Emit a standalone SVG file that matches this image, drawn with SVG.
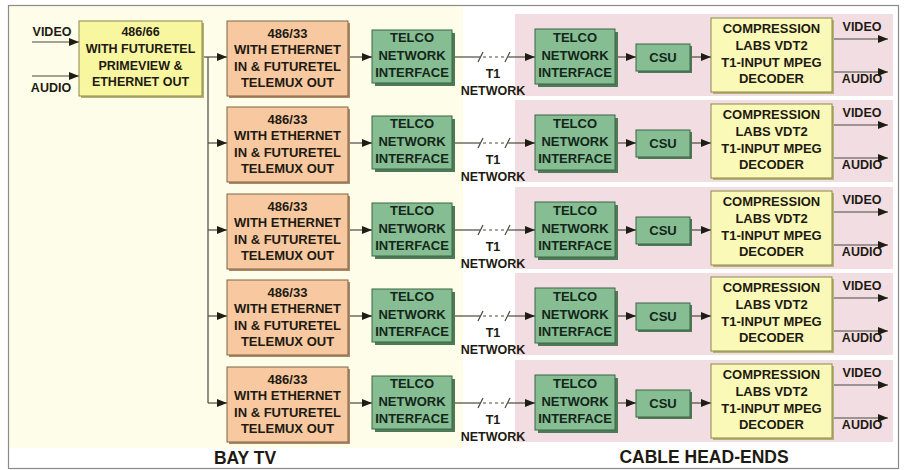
<svg xmlns="http://www.w3.org/2000/svg" width="907" height="470" viewBox="0 0 907 470">
<style>
  text{font-family:"Liberation Sans",Arial,sans-serif;font-weight:bold;fill:#1d1a12;text-anchor:middle}
  .bx{font-size:13px}
  .sb{font-size:12.5px}
  .lbl{font-size:12.5px}
  .big{font-size:17.5px;font-weight:bold}
  .orange{fill:#f8c8a0;stroke:#7d6446;stroke-width:1}
  .yellow{fill:#fbf9b8;stroke:#8a874e;stroke-width:1}
  .ysrc{fill:#f9f6a0;stroke:#8a874e;stroke-width:1}
  .green{fill:#86bd93;stroke:#3b6644;stroke-width:1}
  .shO{fill:#b08a66}
  .shY{fill:#b6b274}
  .shG{fill:#4e7a58}
  .gt{fill:#14261a}
  .pink{fill:#f2dde2}
  .ln{stroke:#4a4a40;stroke-width:1.2;fill:none}
  .dash{stroke:#4a4a40;stroke-width:1.2;fill:none;stroke-dasharray:3 3}
</style>
<defs>
  <marker id="ah" markerUnits="userSpaceOnUse" markerWidth="10" markerHeight="8" refX="10" refY="4" orient="auto">
    <path d="M0,0 L10,4 L0,8 z" fill="#1d1d14"/>
  </marker>
</defs>
<rect x="0" y="0" width="907" height="470" fill="#ffffff"/>
<rect x="9" y="6" width="454" height="442" fill="#fdfde9"/>
<g id="panels">
  <rect class="pink" x="515" y="14" width="378" height="82"/>
  <rect class="pink" x="515" y="100" width="378" height="82"/>
  <rect class="pink" x="515" y="187" width="378" height="82"/>
  <rect class="pink" x="515" y="273" width="378" height="82"/>
  <rect class="pink" x="515" y="360" width="378" height="82"/>
</g>
<rect x="8.5" y="5.5" width="890" height="463" fill="none" stroke="#8a8a8a" stroke-width="1.2"/>

<g id="connectors">
  <line class="ln" x1="32" y1="42" x2="79" y2="42" marker-end="url(#ah)"/>
  <line class="ln" x1="32" y1="76" x2="79" y2="76" marker-end="url(#ah)"/>
  <line class="ln" x1="202" y1="57" x2="227" y2="57" marker-end="url(#ah)"/>
  <line class="ln" x1="208" y1="57" x2="208" y2="403"/>
  <line class="ln" x1="208" y1="143" x2="227" y2="143" marker-end="url(#ah)"/>
  <line class="ln" x1="208" y1="230" x2="227" y2="230" marker-end="url(#ah)"/>
  <line class="ln" x1="208" y1="316" x2="227" y2="316" marker-end="url(#ah)"/>
  <line class="ln" x1="208" y1="403" x2="227" y2="403" marker-end="url(#ah)"/>
  <g id="r1c">
    <line class="ln" x1="348" y1="57" x2="372" y2="57" marker-end="url(#ah)"/>
    <line class="ln" x1="452" y1="57" x2="480" y2="57"/>
    <line class="dash" x1="483" y1="57" x2="506" y2="57"/>
    <line class="ln" x1="508" y1="57" x2="535" y2="57" marker-end="url(#ah)"/>
    <line class="ln" x1="478" y1="62" x2="483" y2="52"/><line class="ln" x1="505" y1="62" x2="510" y2="52"/>
    <line class="ln" x1="615" y1="57" x2="636" y2="57" marker-end="url(#ah)"/>
    <line class="ln" x1="690" y1="57" x2="711" y2="57" marker-end="url(#ah)"/>
    <line class="ln" x1="832" y1="39" x2="888" y2="39" marker-end="url(#ah)"/>
    <line class="ln" x1="832" y1="72" x2="888" y2="72" marker-end="url(#ah)"/>
  </g>
  <g id="r2c">
    <line class="ln" x1="348" y1="143" x2="372" y2="143" marker-end="url(#ah)"/>
    <line class="ln" x1="452" y1="143" x2="480" y2="143"/>
    <line class="dash" x1="483" y1="143" x2="506" y2="143"/>
    <line class="ln" x1="508" y1="143" x2="535" y2="143" marker-end="url(#ah)"/>
    <line class="ln" x1="478" y1="148" x2="483" y2="138"/><line class="ln" x1="505" y1="148" x2="510" y2="138"/>
    <line class="ln" x1="615" y1="143" x2="636" y2="143" marker-end="url(#ah)"/>
    <line class="ln" x1="690" y1="143" x2="711" y2="143" marker-end="url(#ah)"/>
    <line class="ln" x1="832" y1="125" x2="888" y2="125" marker-end="url(#ah)"/>
    <line class="ln" x1="832" y1="158" x2="888" y2="158" marker-end="url(#ah)"/>
  </g>
  <g id="r3c">
    <line class="ln" x1="348" y1="230" x2="372" y2="230" marker-end="url(#ah)"/>
    <line class="ln" x1="452" y1="230" x2="480" y2="230"/>
    <line class="dash" x1="483" y1="230" x2="506" y2="230"/>
    <line class="ln" x1="508" y1="230" x2="535" y2="230" marker-end="url(#ah)"/>
    <line class="ln" x1="478" y1="235" x2="483" y2="225"/><line class="ln" x1="505" y1="235" x2="510" y2="225"/>
    <line class="ln" x1="615" y1="230" x2="636" y2="230" marker-end="url(#ah)"/>
    <line class="ln" x1="690" y1="230" x2="711" y2="230" marker-end="url(#ah)"/>
    <line class="ln" x1="832" y1="212" x2="888" y2="212" marker-end="url(#ah)"/>
    <line class="ln" x1="832" y1="245" x2="888" y2="245" marker-end="url(#ah)"/>
  </g>
  <g id="r4c">
    <line class="ln" x1="348" y1="316" x2="372" y2="316" marker-end="url(#ah)"/>
    <line class="ln" x1="452" y1="316" x2="480" y2="316"/>
    <line class="dash" x1="483" y1="316" x2="506" y2="316"/>
    <line class="ln" x1="508" y1="316" x2="535" y2="316" marker-end="url(#ah)"/>
    <line class="ln" x1="478" y1="321" x2="483" y2="311"/><line class="ln" x1="505" y1="321" x2="510" y2="311"/>
    <line class="ln" x1="615" y1="316" x2="636" y2="316" marker-end="url(#ah)"/>
    <line class="ln" x1="690" y1="316" x2="711" y2="316" marker-end="url(#ah)"/>
    <line class="ln" x1="832" y1="298" x2="888" y2="298" marker-end="url(#ah)"/>
    <line class="ln" x1="832" y1="331" x2="888" y2="331" marker-end="url(#ah)"/>
  </g>
  <g id="r5c">
    <line class="ln" x1="348" y1="403" x2="372" y2="403" marker-end="url(#ah)"/>
    <line class="ln" x1="452" y1="403" x2="480" y2="403"/>
    <line class="dash" x1="483" y1="403" x2="506" y2="403"/>
    <line class="ln" x1="508" y1="403" x2="535" y2="403" marker-end="url(#ah)"/>
    <line class="ln" x1="478" y1="408" x2="483" y2="398"/><line class="ln" x1="505" y1="408" x2="510" y2="398"/>
    <line class="ln" x1="615" y1="403" x2="636" y2="403" marker-end="url(#ah)"/>
    <line class="ln" x1="690" y1="403" x2="711" y2="403" marker-end="url(#ah)"/>
    <line class="ln" x1="832" y1="385" x2="888" y2="385" marker-end="url(#ah)"/>
    <line class="ln" x1="832" y1="418" x2="888" y2="418" marker-end="url(#ah)"/>
  </g>
</g>

<g id="inputs">
  <text class="lbl" x="52" y="36">VIDEO</text>
  <text class="lbl" x="51" y="92">AUDIO</text>
</g>

<g id="src">
  <rect class="shY" x="81" y="23" width="123" height="75"/>
  <rect class="ysrc" x="79" y="21" width="123" height="75"/>
  <text class="sb" x="140.5" y="36">486/66</text>
  <text class="sb" x="140.5" y="53">WITH FUTURETEL</text>
  <text class="sb" x="140.5" y="70">PRIMEVIEW &amp;</text>
  <text class="sb" x="140.5" y="86">ETHERNET OUT</text>
</g>

<g id="pc1">
  <rect class="shO" x="229" y="23" width="121" height="75"/>
  <rect class="orange" x="227" y="21" width="121" height="75"/>
  <text class="bx" x="287.5" y="37.5">486/33</text>
  <text class="bx" x="287.5" y="54">WITH ETHERNET</text>
  <text class="bx" x="287.5" y="70.5">IN &amp; FUTURETEL</text>
  <text class="bx" x="287.5" y="87">TELEMUX OUT</text>
</g>
<g id="tl1">
  <rect class="shG" x="375" y="33" width="80" height="53"/>
  <rect class="green" x="372" y="30" width="80" height="53"/>
  <text class="bx gt" x="412" y="42">TELCO</text>
  <text class="bx gt" x="412" y="60">NETWORK</text>
  <text class="bx gt" x="412" y="77">INTERFACE</text>
</g>
<g id="t1n1"><text class="lbl" x="493" y="78">T1</text><text class="lbl" x="493" y="95">NETWORK</text></g>
<g id="tr1">
  <rect class="shG" x="538" y="32" width="80" height="55"/>
  <rect class="green" x="535" y="29" width="80" height="55"/>
  <text class="bx gt" x="575" y="42">TELCO</text>
  <text class="bx gt" x="575" y="60">NETWORK</text>
  <text class="bx gt" x="575" y="77">INTERFACE</text>
</g>
<g id="csu1">
  <rect class="shG" x="638" y="46" width="54" height="27"/>
  <rect class="green" x="636" y="44" width="54" height="27"/>
  <text class="bx gt" x="663" y="62">CSU</text>
</g>
<g id="dec1">
  <rect class="shY" x="713" y="20" width="121" height="74"/>
  <rect class="yellow" x="711" y="18" width="121" height="74"/>
  <text class="bx" x="771.5" y="33">COMPRESSION</text>
  <text class="bx" x="771.5" y="50">LABS VDT2</text>
  <text class="bx" x="771.5" y="67">T1-INPUT MPEG</text>
  <text class="bx" x="771.5" y="83">DECODER</text>
</g>
<g id="out1"><text class="lbl" x="862" y="31">VIDEO</text><text class="lbl" x="862" y="83">AUDIO</text></g>

<g id="pc2">
  <rect class="shO" x="229" y="109" width="121" height="75"/>
  <rect class="orange" x="227" y="107" width="121" height="75"/>
  <text class="bx" x="287.5" y="123.5">486/33</text>
  <text class="bx" x="287.5" y="140">WITH ETHERNET</text>
  <text class="bx" x="287.5" y="156.5">IN &amp; FUTURETEL</text>
  <text class="bx" x="287.5" y="173">TELEMUX OUT</text>
</g>
<g id="tl2">
  <rect class="shG" x="375" y="119" width="80" height="53"/>
  <rect class="green" x="372" y="116" width="80" height="53"/>
  <text class="bx gt" x="412" y="128">TELCO</text>
  <text class="bx gt" x="412" y="146">NETWORK</text>
  <text class="bx gt" x="412" y="163">INTERFACE</text>
</g>
<g id="t1n2"><text class="lbl" x="493" y="164">T1</text><text class="lbl" x="493" y="181">NETWORK</text></g>
<g id="tr2">
  <rect class="shG" x="538" y="118" width="80" height="55"/>
  <rect class="green" x="535" y="115" width="80" height="55"/>
  <text class="bx gt" x="575" y="128">TELCO</text>
  <text class="bx gt" x="575" y="146">NETWORK</text>
  <text class="bx gt" x="575" y="163">INTERFACE</text>
</g>
<g id="csu2">
  <rect class="shG" x="638" y="132" width="54" height="27"/>
  <rect class="green" x="636" y="130" width="54" height="27"/>
  <text class="bx gt" x="663" y="148">CSU</text>
</g>
<g id="dec2">
  <rect class="shY" x="713" y="106" width="121" height="74"/>
  <rect class="yellow" x="711" y="104" width="121" height="74"/>
  <text class="bx" x="771.5" y="119">COMPRESSION</text>
  <text class="bx" x="771.5" y="136">LABS VDT2</text>
  <text class="bx" x="771.5" y="153">T1-INPUT MPEG</text>
  <text class="bx" x="771.5" y="169">DECODER</text>
</g>
<g id="out2"><text class="lbl" x="862" y="117">VIDEO</text><text class="lbl" x="862" y="169">AUDIO</text></g>

<g id="pc3">
  <rect class="shO" x="229" y="196" width="121" height="75"/>
  <rect class="orange" x="227" y="194" width="121" height="75"/>
  <text class="bx" x="287.5" y="210.5">486/33</text>
  <text class="bx" x="287.5" y="227">WITH ETHERNET</text>
  <text class="bx" x="287.5" y="243.5">IN &amp; FUTURETEL</text>
  <text class="bx" x="287.5" y="260">TELEMUX OUT</text>
</g>
<g id="tl3">
  <rect class="shG" x="375" y="206" width="80" height="53"/>
  <rect class="green" x="372" y="203" width="80" height="53"/>
  <text class="bx gt" x="412" y="215">TELCO</text>
  <text class="bx gt" x="412" y="233">NETWORK</text>
  <text class="bx gt" x="412" y="250">INTERFACE</text>
</g>
<g id="t1n3"><text class="lbl" x="493" y="251">T1</text><text class="lbl" x="493" y="268">NETWORK</text></g>
<g id="tr3">
  <rect class="shG" x="538" y="205" width="80" height="55"/>
  <rect class="green" x="535" y="202" width="80" height="55"/>
  <text class="bx gt" x="575" y="215">TELCO</text>
  <text class="bx gt" x="575" y="233">NETWORK</text>
  <text class="bx gt" x="575" y="250">INTERFACE</text>
</g>
<g id="csu3">
  <rect class="shG" x="638" y="219" width="54" height="27"/>
  <rect class="green" x="636" y="217" width="54" height="27"/>
  <text class="bx gt" x="663" y="235">CSU</text>
</g>
<g id="dec3">
  <rect class="shY" x="713" y="193" width="121" height="74"/>
  <rect class="yellow" x="711" y="191" width="121" height="74"/>
  <text class="bx" x="771.5" y="206">COMPRESSION</text>
  <text class="bx" x="771.5" y="223">LABS VDT2</text>
  <text class="bx" x="771.5" y="240">T1-INPUT MPEG</text>
  <text class="bx" x="771.5" y="256">DECODER</text>
</g>
<g id="out3"><text class="lbl" x="862" y="204">VIDEO</text><text class="lbl" x="862" y="256">AUDIO</text></g>

<g id="pc4">
  <rect class="shO" x="229" y="282" width="121" height="75"/>
  <rect class="orange" x="227" y="280" width="121" height="75"/>
  <text class="bx" x="287.5" y="296.5">486/33</text>
  <text class="bx" x="287.5" y="313">WITH ETHERNET</text>
  <text class="bx" x="287.5" y="329.5">IN &amp; FUTURETEL</text>
  <text class="bx" x="287.5" y="346">TELEMUX OUT</text>
</g>
<g id="tl4">
  <rect class="shG" x="375" y="292" width="80" height="53"/>
  <rect class="green" x="372" y="289" width="80" height="53"/>
  <text class="bx gt" x="412" y="301">TELCO</text>
  <text class="bx gt" x="412" y="319">NETWORK</text>
  <text class="bx gt" x="412" y="336">INTERFACE</text>
</g>
<g id="t1n4"><text class="lbl" x="493" y="337">T1</text><text class="lbl" x="493" y="354">NETWORK</text></g>
<g id="tr4">
  <rect class="shG" x="538" y="291" width="80" height="55"/>
  <rect class="green" x="535" y="288" width="80" height="55"/>
  <text class="bx gt" x="575" y="301">TELCO</text>
  <text class="bx gt" x="575" y="319">NETWORK</text>
  <text class="bx gt" x="575" y="336">INTERFACE</text>
</g>
<g id="csu4">
  <rect class="shG" x="638" y="305" width="54" height="27"/>
  <rect class="green" x="636" y="303" width="54" height="27"/>
  <text class="bx gt" x="663" y="321">CSU</text>
</g>
<g id="dec4">
  <rect class="shY" x="713" y="279" width="121" height="74"/>
  <rect class="yellow" x="711" y="277" width="121" height="74"/>
  <text class="bx" x="771.5" y="292">COMPRESSION</text>
  <text class="bx" x="771.5" y="309">LABS VDT2</text>
  <text class="bx" x="771.5" y="326">T1-INPUT MPEG</text>
  <text class="bx" x="771.5" y="342">DECODER</text>
</g>
<g id="out4"><text class="lbl" x="862" y="290">VIDEO</text><text class="lbl" x="862" y="342">AUDIO</text></g>

<g id="pc5">
  <rect class="shO" x="229" y="369" width="121" height="75"/>
  <rect class="orange" x="227" y="367" width="121" height="75"/>
  <text class="bx" x="287.5" y="383.5">486/33</text>
  <text class="bx" x="287.5" y="400">WITH ETHERNET</text>
  <text class="bx" x="287.5" y="416.5">IN &amp; FUTURETEL</text>
  <text class="bx" x="287.5" y="433">TELEMUX OUT</text>
</g>
<g id="tl5">
  <rect class="shG" x="375" y="379" width="80" height="53"/>
  <rect class="green" x="372" y="376" width="80" height="53"/>
  <text class="bx gt" x="412" y="388">TELCO</text>
  <text class="bx gt" x="412" y="406">NETWORK</text>
  <text class="bx gt" x="412" y="423">INTERFACE</text>
</g>
<g id="t1n5"><text class="lbl" x="493" y="424">T1</text><text class="lbl" x="493" y="441">NETWORK</text></g>
<g id="tr5">
  <rect class="shG" x="538" y="378" width="80" height="55"/>
  <rect class="green" x="535" y="375" width="80" height="55"/>
  <text class="bx gt" x="575" y="388">TELCO</text>
  <text class="bx gt" x="575" y="406">NETWORK</text>
  <text class="bx gt" x="575" y="423">INTERFACE</text>
</g>
<g id="csu5">
  <rect class="shG" x="638" y="392" width="54" height="27"/>
  <rect class="green" x="636" y="390" width="54" height="27"/>
  <text class="bx gt" x="663" y="408">CSU</text>
</g>
<g id="dec5">
  <rect class="shY" x="713" y="366" width="121" height="74"/>
  <rect class="yellow" x="711" y="364" width="121" height="74"/>
  <text class="bx" x="771.5" y="379">COMPRESSION</text>
  <text class="bx" x="771.5" y="396">LABS VDT2</text>
  <text class="bx" x="771.5" y="413">T1-INPUT MPEG</text>
  <text class="bx" x="771.5" y="429">DECODER</text>
</g>
<g id="out5"><text class="lbl" x="862" y="377">VIDEO</text><text class="lbl" x="862" y="429">AUDIO</text></g>

<g id="titles">
  <text class="big" x="245" y="464">BAY TV</text>
  <text class="big" x="704" y="463">CABLE HEAD-ENDS</text>
</g>
</svg>
